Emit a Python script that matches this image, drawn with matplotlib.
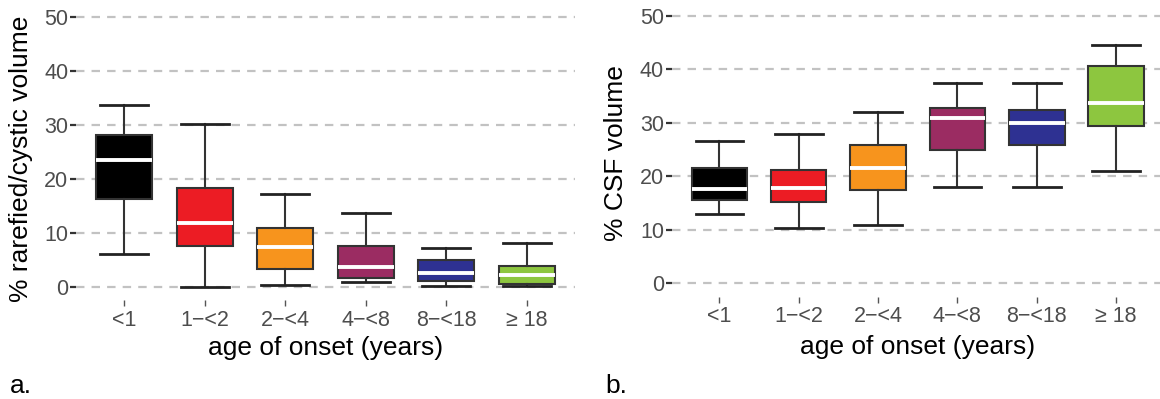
import matplotlib
matplotlib.use("Agg")
from matplotlib import pyplot as plt

plt.rcParams["font.family"] = ["Liberation Sans", "DejaVu Sans"]

groups = ["<1", "1\u2212<2", "2\u2212<4", "4\u2212<8", "8\u2212<18", "\u2265 18"]
colors = ["#000000", "#ec1c24", "#f7941d", "#9b2c62", "#2e3192", "#8dc63f"]

# panel a: % rarefied/cystic volume
a_low = [6.0, 0.0, 0.4, 0.9, 0.2, 0.05]
a_q1 = [16.2, 7.6, 3.3, 1.7, 1.05, 0.5]
a_med = [23.4, 11.8, 7.3, 3.6, 2.6, 2.1]
a_q3 = [28.0, 18.2, 10.9, 7.6, 4.9, 3.9]
a_high = [33.6, 30.1, 17.2, 13.6, 7.2, 8.1]

# panel b: % CSF volume
b_low = [13.0, 10.4, 11.0, 18.0, 18.0, 21.0]
b_q1 = [15.6, 15.3, 17.5, 25.0, 25.9, 29.5]
b_med = [17.6, 17.9, 21.6, 30.9, 30.0, 33.8]
b_q3 = [21.6, 21.2, 25.9, 32.8, 32.5, 40.7]
b_high = [26.6, 28.0, 32.0, 37.4, 37.4, 44.5]

yticks = [0, 10, 20, 30, 40, 50]


def draw_panel(ax, low, q1, med, q3, high, ylabel):
    stats = []
    for i in range(len(groups)):
        stats.append(dict(whislo=low[i], q1=q1[i], med=med[i], q3=q3[i],
                          whishi=high[i], fliers=[], label=groups[i]))
    for y in yticks:
        ax.axhline(y, color="#c2c2c2", lw=1.6, dashes=(3.8, 3.2), zorder=0)
    bp = ax.bxp(stats, positions=range(1, 7), widths=0.7, patch_artist=True,
                showfliers=False,
                boxprops=dict(edgecolor="#333333", linewidth=1.5),
                whiskerprops=dict(color="#333333", linewidth=1.5),
                capprops=dict(color="#222222", linewidth=2.0),
                medianprops=dict(color="white", linewidth=2.8),
                capwidths=0.6)
    for patch, c in zip(bp["boxes"], colors):
        patch.set_facecolor(c)
        patch.set_zorder(2)
    ax.set_xlim(0.4, 6.6)
    ax.set_ylim(-2.5, 52.5)
    ax.set_yticks(yticks)
    ax.set_xticks(range(1, 7))
    ax.set_xticklabels(groups)
    for s in ax.spines.values():
        s.set_visible(False)
    ax.tick_params(axis="y", length=4, width=1.6, color="#333333",
                   labelsize=15.5, labelcolor="#4d4d4d", pad=1.5)
    ax.tick_params(axis="x", length=4, width=1.0, color="#555555",
                   labelsize=15.5, labelcolor="#4d4d4d", pad=3)
    ax.set_ylabel(ylabel, fontsize=19, color="black")
    ax.set_xlabel("age of onset (years)", fontsize=19, color="black")
    ax.patch.set_alpha(0)


fig = plt.figure(figsize=(11.6, 3.99), dpi=100)
ax1 = fig.add_axes([0.0655, 0.2476, 0.4302, 0.7444])
ax2 = fig.add_axes([0.5791, 0.2564, 0.4241, 0.7371])

draw_panel(ax1, a_low, a_q1, a_med, a_q3, a_high, "% rarefied/cystic volume")
draw_panel(ax2, b_low, b_q1, b_med, b_q3, b_high, "% CSF volume")

ax1.yaxis.set_label_coords(-0.0856, 0.475)
ax2.yaxis.set_label_coords(-0.089, 0.487)
ax1.xaxis.set_label_coords(0.5, -0.12)
ax2.xaxis.set_label_coords(0.5, -0.13)

fig.text(10 / 1160, 1 - 393 / 399, "a.", fontsize=19, ha="left", va="baseline")
fig.text(605 / 1160, 1 - 393 / 399, "b.", fontsize=19, ha="left", va="baseline")

fig.savefig("out.png", dpi=100)
